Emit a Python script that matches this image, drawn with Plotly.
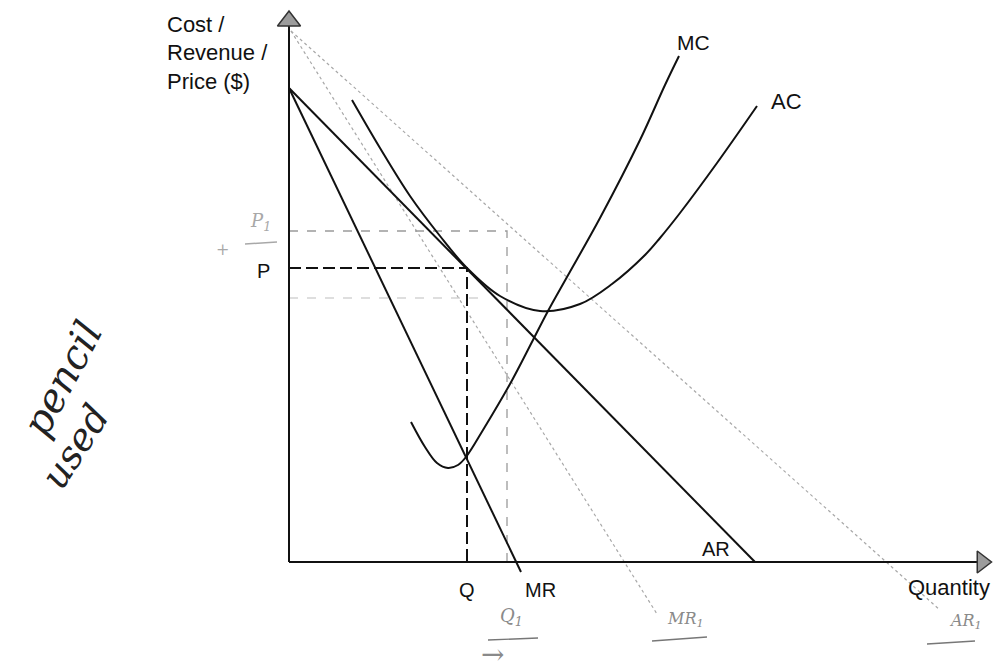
import plotly.graph_objects as go

# diagram units: origin at the axes corner, 1 unit ~ 1 px
# demand / revenue curves
ar_q = [0, 466]
ar_p = [474, 0]
mr_q = [0, 232]
mr_p = [474, -10]

# pencil-drawn shifted curves
ar1_q = [2, 651]
ar1_p = [531, -48]
mr1_q = [2, 368]
mr1_p = [531, -52]

# cost curves
ac_q = [63, 91, 121, 151, 178, 211, 251, 291, 323, 356, 371, 391, 428, 468]
ac_p = [462, 414, 366, 326, 294, 266, 251, 258, 278, 307, 324, 349, 399, 456]
mc_q = [122, 136, 148, 159, 169, 177, 194, 221, 244, 259, 278, 311, 351, 376, 390]
mc_p = [140, 115, 99, 94, 97, 105, 132, 178, 222, 251, 285, 344, 422, 477, 506]

# equilibrium levels
price_p = 294
quant_q = 178
price1_p = 331
quant1_q = 218
extra_p = 264
extra_q_end = 191

ink = "#111111"
pencil = "#a8a8a8"
font_main = "Liberation Sans, Arial, sans-serif"

fig = go.Figure()


def line(x, y, color=ink, width=2, dash="solid", shape="linear"):
    fig.add_trace(go.Scatter(x=x, y=y, mode="lines", hoverinfo="skip",
                             line=dict(color=color, width=width, dash=dash, shape=shape)))


# pencil lines first (behind)
line(ar1_q, ar1_p, pencil, 1.2, "dot")
line(mr1_q, mr1_p, pencil, 1.2, "dot")
line([0, quant1_q, quant1_q], [price1_p, price1_p, 0], "#9a9a9a", 1.3, "dash")
line([0, extra_q_end], [extra_p, extra_p], "#bdbdbd", 1.1, "dash")

# axes
line([0, 0], [0, 540], ink, 2)
line([0, 688], [0, 0], ink, 2)
fig.add_trace(go.Scatter(x=[0], y=[541], mode="markers", hoverinfo="skip",
                         marker=dict(symbol="triangle-up", size=20, color="#9c9c9c",
                                     line=dict(color="#333", width=1.5))))
fig.add_trace(go.Scatter(x=[693], y=[0], mode="markers", hoverinfo="skip",
                         marker=dict(symbol="triangle-right", size=19, color="#9c9c9c",
                                     line=dict(color="#333", width=1.5))))

# curves
line(ar_q, ar_p)
line(mr_q, mr_p)
line(ac_q, ac_p, shape="spline")
line(mc_q, mc_p, shape="spline")

# P / Q dashed guides
line([0, quant_q, quant_q], [price_p, price_p, 0], ink, 2, "12px,5px")

# handwritten underlines
line([-44, -12], [318, 320], pencil, 1.4)
line([199, 249], [-78, -76], "#777", 1.4)
line([363, 418], [-79, -75], "#777", 1.4)
line([638, 686], [-82, -79], "#777", 1.4)

labels = [
    ("MC", 404, 520, 21), ("AC", 497, 461, 22), ("AR", 427, 13, 20),
    ("MR", 251, -28, 20), ("Q", 178, -28, 20), ("P", -26, 291, 20),
]
for txt, x, y, s in labels:
    fig.add_annotation(x=x, y=y, text=txt, showarrow=False,
                       font=dict(family=font_main, size=s, color=ink))

fig.add_annotation(x=703, y=-25, text="Quantity", showarrow=False, xanchor="right",
                   font=dict(family=font_main, size=22, color=ink))

for txt, y in [("Cost /", 538), ("Revenue /", 510), ("Price ($)", 481)]:
    fig.add_annotation(x=-124, y=y, text=txt, showarrow=False, xanchor="left",
                       font=dict(family=font_main, size=22, color=ink))

hand = "DejaVu Serif, serif"
pencil_notes = [
    ("<i>P<sub>1</sub></i>", -29, 340, 18, pencil),
    ("+", -67, 313, 16, pencil),
    ("<i>Q<sub>1</sub></i>", 222, -55, 18, "#8a8a8a"),
    ("<i>MR<sub>1</sub></i>", 396, -57, 16, "#8a8a8a"),
    ("<i>AR<sub>1</sub></i>", 676, -59, 16, "#8a8a8a"),
    ("→", 203, -92, 28, "#8a8a8a"),
]
for txt, x, y, s, c in pencil_notes:
    fig.add_annotation(x=x, y=y, text=txt, showarrow=False,
                       font=dict(family=hand, size=s, color=c))

fig.add_annotation(x=-227, y=183, text="<i>pencil</i>", showarrow=False, textangle=-62,
                   font=dict(family=hand, size=40, color="#222"))
fig.add_annotation(x=-214, y=115, text="<i>used</i>", showarrow=False, textangle=-57,
                   font=dict(family=hand, size=38, color="#222"))

# page body adds an 8px offset, so the figure is 8px smaller and ranges shifted
fig.update_layout(
    width=994, height=664, showlegend=False,
    margin=dict(l=0, r=0, t=0, b=0),
    plot_bgcolor="white", paper_bgcolor="white",
    xaxis=dict(range=[-281, 713], visible=False, fixedrange=True),
    yaxis=dict(range=[-110, 554], visible=False, fixedrange=True),
)

fig.write_html("out.html")
